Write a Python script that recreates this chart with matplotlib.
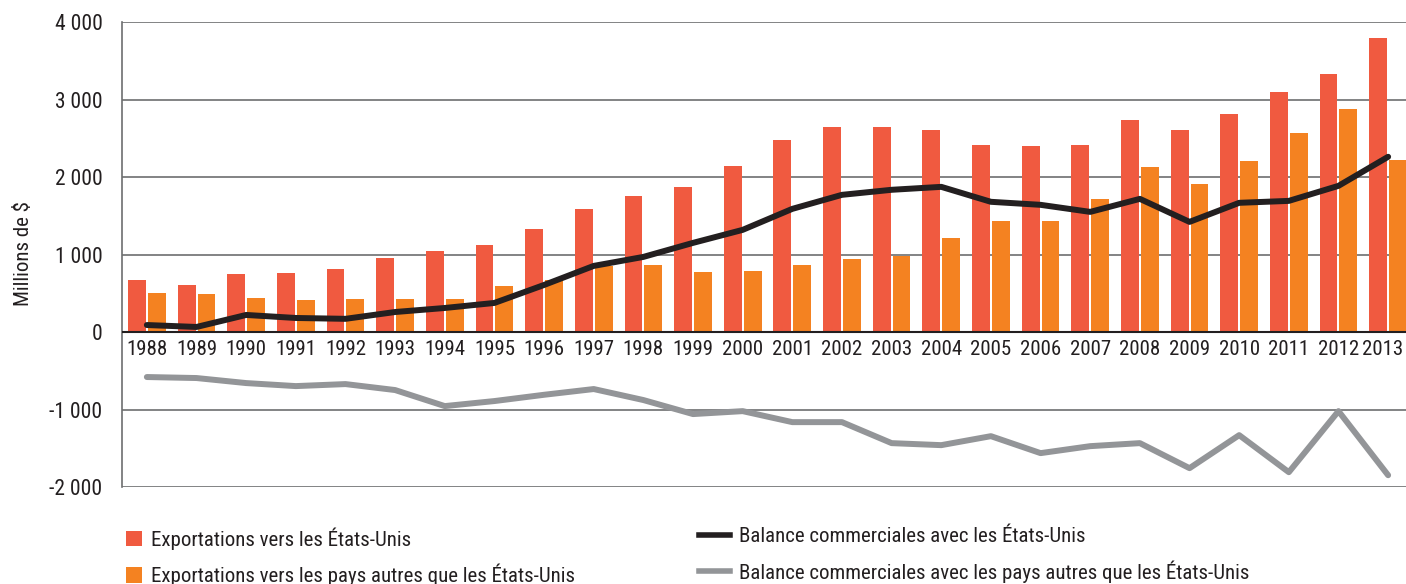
import matplotlib
matplotlib.use("Agg")
import matplotlib.pyplot as plt
from matplotlib import font_manager
from matplotlib.patches import Patch
from matplotlib.lines import Line2D
import numpy as np

# Data (millions de $)
years = [str(y) for y in range(1988, 2014)]
exports_us = [672, 607, 749, 762, 814, 956, 1046, 1124, 1331, 1589, 1757, 1873, 2145,
              2481, 2649, 2649, 2610, 2416, 2403, 2416, 2739, 2610, 2817, 3101, 3333, 3798]
exports_other = [508, 491, 439, 413, 426, 426, 426, 594, 672, 853, 866, 775, 788,
                 866, 943, 982, 1214, 1434, 1434, 1718, 2132, 1912, 2209, 2571, 2881, 2222]
balance_us = [90, 65, 220, 181, 170, 258, 310, 375, 607, 853, 969, 1150, 1318,
              1589, 1770, 1835, 1873, 1680, 1641, 1550, 1718, 1421, 1667, 1692, 1886, 2261]
balance_other = [-581, -594, -659, -698, -672, -749, -956, -891, -810, -736, -878, -1059, -1021,
                 -1163, -1163, -1434, -1460, -1344, -1563, -1473, -1434, -1757, -1331, -1809, -1021, -1848]

yticks = [-2000, -1000, 0, 1000, 2000, 3000, 4000]
ytick_labels = ["-2 000", "-1 000", "0", "1 000", "2 000", "3 000", "4 000"]

labels = ["Exportations vers les États-Unis",
          "Exportations vers les pays autres que les États-Unis",
          "Balance commerciales avec les États-Unis",
          "Balance commerciales avec les pays autres que les États-Unis"]

RED = "#f05a40"
ORANGE = "#f48221"
BLACK = "#231f20"
GRAY = "#939598"
GRID = "#6d6e70"

plt.rcParams['font.family'] = ['Liberation Sans Narrow', 'Roboto Condensed', 'Noto Sans Condensed',
                               'Open Sans Condensed', 'DejaVu Sans']
plt.rcParams['font.stretch'] = 'condensed'

# a narrow face keeps the original size, a normal-width one gets shrunk
found = font_manager.findfont(font_manager.FontProperties(
    family=plt.rcParams['font.family'], stretch='condensed'))
narrow = any(k in found.lower() for k in ('narrow', 'condensed'))
FS = 15 if narrow else 11.5

fig = plt.figure(figsize=(14.06, 5.84), dpi=100)
ax = fig.add_axes([0.0868, 0.1661, 0.9132, 0.7962])

x = np.arange(len(years))
w = 0.36
ax.bar(x - 0.2, exports_us, w, color=RED, zorder=2)
ax.bar(x + 0.2, exports_other, w, color=ORANGE, zorder=2)
ax.plot(x, balance_us, color=BLACK, lw=4.3, solid_capstyle='round', zorder=4)
ax.plot(x, balance_other, color=GRAY, lw=4.3, solid_capstyle='round', zorder=4)

ax.set_xlim(-0.5, 25.36)
ax.set_ylim(-2000, 4000)
ax.set_yticks(yticks)
ax.set_yticklabels(ytick_labels, fontsize=FS + 0.5, color=BLACK)
ax.tick_params(axis='y', length=0, pad=14)
ax.set_xticks([])

for t in yticks:
    if t == 0:
        ax.axhline(t, color=BLACK, lw=1.5, zorder=3)
    else:
        ax.axhline(t, color=GRID, lw=1.2, zorder=1)

for s in ['top', 'right', 'bottom']:
    ax.spines[s].set_visible(False)
ax.spines['left'].set_color(GRID)
ax.spines['left'].set_linewidth(1.2)

for i, yr in enumerate(years):
    dx = -4 if i == len(years) - 1 else 0
    ax.annotate(yr, (i, 0), xytext=(dx, -6), textcoords='offset points',
                ha='center', va='top', fontsize=FS, color=BLACK)

fig.text(0.0165, 0.565, "Millions de $", rotation=90, ha='center', va='center',
         fontsize=FS, color=BLACK)

h1 = [Patch(facecolor=RED), Patch(facecolor=ORANGE)]
h2 = [Line2D([], [], color=BLACK, lw=4), Line2D([], [], color=GRAY, lw=4)]
leg_kw = dict(frameon=False, fontsize=FS, labelcolor=BLACK, handlelength=0.75,
              handleheight=0.75, handletextpad=0.45, labelspacing=0.68,
              borderaxespad=0, borderpad=0)
fig.legend(h1, labels[:2], loc='upper left', bbox_to_anchor=(126 / 1406, 1 - 527 / 584), **leg_kw)
kw2 = dict(leg_kw)
kw2['handlelength'] = 1.5
kw2['handletextpad'] = 0.4
fig.legend(h2, labels[2:], loc='upper left', bbox_to_anchor=(699 / 1406, 1 - 527 / 584), **kw2)

fig.savefig("out.png", dpi=100)
